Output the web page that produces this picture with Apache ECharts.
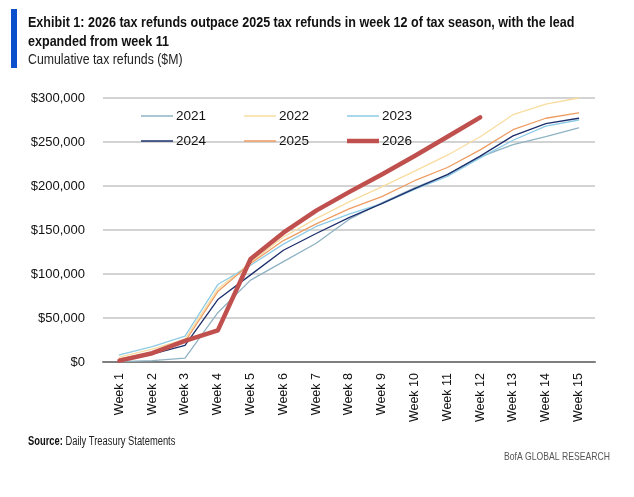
<!DOCTYPE html>
<html>
<head>
<meta charset="utf-8">
<script src="https://cdn.jsdelivr.net/npm/echarts@6/dist/echarts.min.js"></script>
<style>
html,body{margin:0;padding:0;background:#fff;}
#c{width:634px;height:497px;}
</style>
</head>
<body>
<div id="c"></div>
<script>
const weeks = ['Week 1','Week 2','Week 3','Week 4','Week 5','Week 6','Week 7','Week 8','Week 9','Week 10','Week 11','Week 12','Week 13','Week 14','Week 15'];
const y2021 = [500, 1500, 4500, 56000, 93000, 114000, 135000, 162000, 181000, 198000, 213000, 233000, 247000, 256000, 266000];
const y2022 = [5500, 14500, 26000, 83000, 113000, 142000, 163000, 182000, 199000, 217000, 235000, 256000, 281000, 293000, 300000];
const y2023 = [8000, 17500, 29500, 88000, 110000, 134000, 154000, 168000, 180000, 196000, 211000, 232000, 252000, 268000, 275000];
const y2024 = [2000, 9000, 19000, 71000, 99000, 127000, 146000, 164000, 180000, 197000, 213000, 234000, 257000, 271000, 277000];
const y2025 = [3500, 11000, 23000, 80000, 112000, 138000, 157000, 174000, 188000, 206000, 221000, 241000, 264000, 277000, 283000];
const y2026 = [1500, 10000, 24000, 36000, 117000, 147000, 172000, 193000, 213000, 234000, 256000, 278000];
const yTicks = [0, 50000, 100000, 150000, 200000, 250000, 300000];

const titleLine1 = 'Exhibit 1: 2026 tax refunds outpace 2025 tax refunds in week 12 of tax season, with the lead';
const titleLine2 = 'expanded from week 11';
const subtitleText = 'Cumulative tax refunds ($M)';
const sourceText = '{b|Source:} Daily Treasury Statements';
const brandText = 'BofA GLOBAL RESEARCH';

const F = '"Liberation Sans", Arial, sans-serif';

const seriesDefs = [
  {name:'2021', data:y2021, color:'#8fb2c3', width:1.3},
  {name:'2022', data:y2022, color:'#f9dca0', width:1.3},
  {name:'2023', data:y2023, color:'#8dcbe6', width:1.3},
  {name:'2024', data:y2024, color:'#1d2f6c', width:1.3},
  {name:'2025', data:y2025, color:'#ee9d63', width:1.3},
  {name:'2026', data:y2026, color:'#c0504d', width:4.5}
];

const legendPos = [[141,116],[244,116],[347,116],[141,141],[244,141],[347,141]];

const chart = echarts.init(document.getElementById('c'));
chart.setOption({
  animation:false,
  backgroundColor:'#fff',
  graphic:[
    {type:'rect', shape:{x:11, y:9, width:6, height:59}, style:{fill:'#0a50cc'}},
    {type:'text', x:28, y:23, scaleX:0.81, style:{text:titleLine1, fontFamily:F, fontWeight:'bold', fontSize:15.5, fill:'#111', verticalAlign:'middle'}},
    {type:'text', x:28, y:42, scaleX:0.81, style:{text:titleLine2, fontFamily:F, fontWeight:'bold', fontSize:15.5, fill:'#111', verticalAlign:'middle'}},
    {type:'text', x:28, y:60, scaleX:0.82, style:{text:subtitleText, fontFamily:F, fontSize:15, fill:'#222', verticalAlign:'middle'}},
    {type:'text', x:28, y:442, scaleX:0.78, style:{text:sourceText, fontFamily:F, fontSize:12, fill:'#222', verticalAlign:'middle',
      rich:{b:{fontFamily:F, fontWeight:'bold', fontSize:12, fill:'#111'}}}},
    {type:'text', x:610, y:457, scaleX:0.785, style:{text:brandText, fontFamily:F, fontSize:11, fill:'#555', align:'right', verticalAlign:'middle'}}
  ],
  legend: seriesDefs.map((s,i)=>({
    data:[s.name], left:legendPos[i][0], top:legendPos[i][1]-8, padding:0,
    icon:'rect', itemWidth:32, itemHeight: i===5 ? 4.5 : 1.5, itemGap:0,
    textStyle:{fontFamily:F, fontSize:13.5, color:'#111', padding:[0,0,0,-2], lineHeight:16}
  })),
  grid:{left:103, right:39, top:98, bottom:135, containLabel:false},
  xAxis:{
    type:'category', data:weeks, boundaryGap:true,
    axisLine:{show:true, lineStyle:{color:'#7f7f7f', width:2}},
    axisTick:{show:false},
    axisLabel:{rotate:90, fontFamily:F, fontSize:12.5, color:'#111', margin:11, interval:0},
    splitLine:{show:false}
  },
  yAxis:{
    type:'value', min:yTicks[0], max:yTicks[yTicks.length-1], interval:yTicks[1]-yTicks[0],
    axisLine:{show:false}, axisTick:{show:false},
    axisLabel:{fontFamily:F, fontSize:13, color:'#111', margin:18,
      formatter:v=>'$'+v.toLocaleString('en-US')},
    splitLine:{show:true, lineStyle:{color:'#c4c4c4', width:1.5}}
  },
  series: seriesDefs.map((s,i)=>({
    name:s.name, type:'line', data:s.data, symbol:'none', smooth:false,
    z: i===5 ? 10 : 2,
    lineStyle:{color:s.color, width:s.width, cap:'round', join:'round'},
    itemStyle:{color:s.color}
  }))
});
</script>
</body>
</html>
